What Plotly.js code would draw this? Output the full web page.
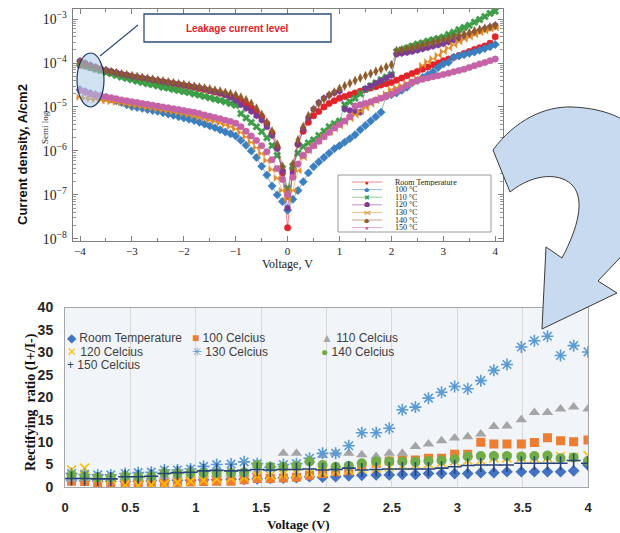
<!DOCTYPE html>
<html><head><meta charset="utf-8">
<script src="https://cdn.plot.ly/plotly-3.0.1.min.js"></script>
<style>html,body{margin:0;padding:0;background:#fff}</style>
</head><body><div id="chart" style="width:620px;height:533px"></div>
<script>
// ---------- TOP CHART DATA: current density (log10 of A/cm2) vs voltage ----------
const voltage = [-4.0,-3.9,-3.8,-3.7,-3.6,-3.5,-3.4,-3.3,-3.2,-3.1,-3.0,-2.9,-2.8,-2.7,-2.6,-2.5,-2.4,-2.3,-2.2,-2.1,
 -2.0,-1.9,-1.8,-1.7,-1.6,-1.5,-1.4,-1.3,-1.2,-1.1,-1.0,-0.9,-0.8,-0.7,-0.6,-0.5,-0.4,-0.3,-0.2,-0.1,0.0,
 0.1,0.2,0.3,0.4,0.5,0.6,0.7,0.8,0.9,1.0,1.1,1.2,1.3,1.4,1.5,1.6,1.7,1.8,1.9,2.0,
 2.1,2.2,2.3,2.4,2.5,2.6,2.7,2.8,2.9,3.0,3.1,3.2,3.3,3.4,3.5,3.6,3.7,3.8,3.9,4.0];

const logJ_RT = [-4.05,-4.07,-4.10,-4.13,-4.15,-4.18,-4.20,-4.23,-4.26,-4.28,-4.31,-4.33,-4.35,-4.37,-4.39,-4.41,-4.43,-4.45,-4.47,-4.49,
 -4.51,-4.53,-4.55,-4.58,-4.60,-4.63,-4.66,-4.69,-4.72,-4.76,-4.80,-4.86,-4.93,-5.01,-5.10,-5.22,-5.38,-5.60,-5.92,-6.50,-7.75,
 -6.40,-5.85,-5.55,-5.35,-5.20,-5.10,-5.00,-4.92,-4.86,-4.80,-4.76,-4.72,-4.68,-4.64,-4.60,-4.57,-4.54,-4.50,-4.47,-4.44,
 -4.39,-4.34,-4.29,-4.24,-4.19,-4.14,-4.09,-4.04,-4.00,-3.95,-3.91,-3.87,-3.83,-3.78,-3.74,-3.69,-3.65,-3.61,-3.55,-3.40];
const logJ_100 = [-4.61,-4.65,-4.69,-4.72,-4.75,-4.78,-4.82,-4.86,-4.90,-4.95,-4.99,-5.01,-5.03,-5.06,-5.08,-5.10,-5.13,-5.16,-5.19,-5.22,
 -5.25,-5.28,-5.31,-5.35,-5.39,-5.43,-5.47,-5.52,-5.57,-5.61,-5.66,-5.76,-5.87,-6.00,-6.15,-6.35,-6.55,-6.80,-7.00,-7.15,-7.35,
 -7.10,-6.90,-6.70,-6.50,-6.36,-6.25,-6.15,-6.05,-5.95,-5.88,-5.80,-5.72,-5.63,-5.52,-5.42,-5.32,-5.22,-5.12,-4.75,-4.72,
 -4.68,-4.62,-4.55,-4.45,-4.40,-4.33,-4.27,-4.20,-4.10,-4.02,-3.98,-3.87,-3.84,-3.81,-3.78,-3.75,-3.71,-3.67,-3.63,-3.58];
const logJ_110 = [-4.00,-4.06,-4.10,-4.14,-4.17,-4.21,-4.24,-4.28,-4.32,-4.35,-4.38,-4.41,-4.44,-4.47,-4.49,-4.52,-4.55,-4.57,-4.60,-4.62,
 -4.65,-4.67,-4.70,-4.73,-4.76,-4.79,-4.82,-4.85,-4.88,-4.92,-4.96,-5.15,-5.25,-5.35,-5.45,-5.56,-5.70,-5.88,-6.10,-6.40,-6.85,
 -6.35,-6.05,-5.90,-5.82,-5.75,-5.65,-5.55,-5.45,-5.38,-5.32,-4.95,-4.88,-4.80,-4.70,-4.60,-4.52,-4.45,-4.38,-4.32,-4.26,
 -3.74,-3.70,-3.66,-3.61,-3.57,-3.54,-3.50,-3.47,-3.44,-3.41,-3.35,-3.30,-3.24,-3.19,-3.14,-3.07,-3.01,-2.94,-2.87,-2.82];
const logJ_120 = [-3.95,-4.00,-4.05,-4.09,-4.13,-4.16,-4.19,-4.22,-4.25,-4.27,-4.30,-4.32,-4.34,-4.36,-4.38,-4.40,-4.42,-4.44,-4.46,-4.48,
 -4.50,-4.52,-4.54,-4.56,-4.59,-4.62,-4.65,-4.68,-4.72,-4.78,-4.85,-4.95,-5.03,-5.10,-5.20,-5.30,-5.45,-5.65,-5.95,-6.45,-7.30,
 -6.50,-5.85,-5.50,-5.25,-5.05,-4.90,-4.80,-4.73,-4.68,-4.64,-5.05,-5.08,-5.10,-5.12,-4.58,-4.52,-4.46,-4.40,-4.34,-4.28,
 -3.80,-3.78,-3.76,-3.74,-3.71,-3.68,-3.65,-3.62,-3.59,-3.56,-3.52,-3.48,-3.44,-3.40,-3.36,-3.31,-3.27,-3.22,-3.18,-3.14];
const logJ_130 = [-4.78,-4.80,-4.82,-4.83,-4.85,-4.86,-4.88,-4.89,-4.91,-4.93,-4.95,-4.97,-4.99,-5.01,-5.03,-5.05,-5.07,-5.09,-5.11,-5.13,
 -5.15,-5.18,-5.21,-5.24,-5.27,-5.30,-5.33,-5.37,-5.41,-5.45,-5.50,-5.58,-5.68,-5.80,-5.93,-6.06,-6.22,-6.42,-6.62,-6.90,-7.10,
 -6.90,-6.45,-6.15,-6.00,-5.88,-5.78,-5.68,-5.58,-5.50,-5.43,-5.35,-5.27,-5.18,-5.10,-5.02,-4.94,-4.86,-4.78,-4.70,-4.60,
 -4.56,-4.51,-4.46,-4.41,-4.35,-4.05,-3.97,-3.90,-3.82,-3.74,-3.66,-3.59,-3.52,-3.46,-3.41,-3.36,-3.31,-3.27,-3.23,-3.20];
const logJ_140 = [-3.98,-4.03,-4.07,-4.11,-4.14,-4.17,-4.20,-4.22,-4.25,-4.27,-4.29,-4.31,-4.33,-4.35,-4.37,-4.39,-4.41,-4.43,-4.45,-4.47,
 -4.49,-4.51,-4.53,-4.55,-4.57,-4.59,-4.62,-4.64,-4.67,-4.70,-4.73,-4.78,-4.84,-4.92,-5.03,-5.17,-5.35,-5.55,-5.85,-6.35,-7.00,
 -6.30,-5.75,-5.45,-5.20,-5.05,-4.92,-4.82,-4.73,-4.66,-4.58,-4.52,-4.46,-4.40,-4.34,-4.29,-4.24,-4.19,-4.14,-4.09,-4.04,
 -3.72,-3.70,-3.67,-3.65,-3.62,-3.59,-3.56,-3.53,-3.50,-3.47,-3.44,-3.40,-3.37,-3.34,-3.31,-3.27,-3.24,-3.21,-3.18,-3.15];
const logJ_150 = [-4.62,-4.66,-4.70,-4.73,-4.75,-4.77,-4.79,-4.81,-4.84,-4.86,-4.88,-4.90,-4.92,-4.94,-4.96,-4.98,-5.00,-5.02,-5.04,-5.06,
 -5.08,-5.10,-5.12,-5.15,-5.18,-5.21,-5.24,-5.27,-5.30,-5.33,-5.37,-5.45,-5.55,-5.66,-5.76,-5.88,-6.02,-6.20,-6.40,-6.65,-7.00,
 -6.60,-6.30,-6.10,-5.98,-5.88,-5.78,-5.68,-5.58,-5.48,-5.40,-5.32,-5.22,-4.98,-4.95,-4.92,-4.88,-4.84,-4.80,-4.76,-4.71,
 -4.65,-4.58,-4.51,-4.44,-4.40,-4.37,-4.34,-4.31,-4.29,-4.26,-4.23,-4.20,-4.17,-4.14,-4.10,-4.06,-4.02,-3.99,-3.95,-3.91];

const topNames = ['Room Temperature','100 °C','110 °C','120 °C','130 °C','140 °C','150 °C'];

// ---------- BOTTOM CHART DATA: rectifying ratio vs voltage ----------
const ratioVoltage = [0.05,0.15,0.25,0.35,0.46,0.56,0.66,0.76,0.86,0.96,1.06,1.16,1.27,1.37,1.47,1.57,1.67,1.77,1.87,1.97,
 2.07,2.17,2.27,2.38,2.48,2.58,2.68,2.78,2.88,2.98,3.08,3.18,3.28,3.38,3.49,3.59,3.69,3.79,3.89,4.0];
const ratioRT  = [1.5,1.4,1.3,1.3,1.3,1.3,1.4,1.4,1.5,1.5,1.6,1.6,1.7,1.7,1.8,1.9,2.0,2.1,2.3,2.2,
 2.3,2.5,2.6,2.7,2.7,2.8,2.8,3.0,3.0,3.0,3.0,3.2,3.2,3.4,3.4,3.4,3.4,3.4,3.6,4.9];
const ratio100 = [1.3,1.2,1.0,1.0,0.7,0.6,0.7,0.9,1.0,1.1,1.2,1.3,1.3,1.6,1.9,1.9,2.0,2.2,2.6,3.0,
 3.4,3.6,4.8,5.3,5.8,6.0,6.0,6.4,6.4,7.3,7.3,10.0,9.6,9.6,9.6,9.9,11.0,10.3,10.1,10.5];
const ratio110 = [1.8,1.9,1.9,2.0,2.1,2.2,2.3,2.4,2.5,2.6,2.7,2.8,2.9,3.0,3.5,4.0,7.5,7.5,6.0,7.0,
 7.5,7.5,7.2,6.8,7.5,7.5,9.0,9.6,10.3,10.9,11.2,11.8,13.5,13.6,15.0,16.6,16.6,17.4,17.8,17.4];
const ratio120 = [3.8,4.2,2.0,1.8,0.5,0.4,0.5,0.6,1.0,1.3,1.5,1.8,2.0,2.2,2.5,2.6,2.8,3.0,3.2,3.3,
 3.5,3.8,4.0,4.2,4.5,4.8,5.0,5.2,5.5,5.8,6.0,6.0,6.5,6.5,6.6,6.5,6.6,6.8,6.6,7.0];
const ratio130 = [3.0,2.8,2.7,2.7,3.0,3.2,3.3,3.8,3.8,4.0,4.6,5.0,5.1,5.6,5.2,4.4,5.0,5.2,6.4,7.5,
 7.5,9.2,12.1,12.1,13.1,17.2,17.8,19.8,21.1,22.4,21.9,23.7,26.0,27.3,31.2,32.6,33.6,29.3,31.5,30.1];
const ratio140 = [2.7,2.4,2.1,2.1,2.4,2.3,2.4,3.1,3.0,3.1,3.1,3.1,3.2,3.3,4.9,4.5,4.5,4.7,5.7,4.9,
 4.5,4.7,5.3,5.7,5.7,5.7,5.6,5.8,5.9,6.2,6.8,6.9,6.9,6.9,6.8,6.9,7.0,6.4,6.6,5.8];
const ratio150 = [1.9,1.9,1.8,1.8,2.3,2.3,2.4,3.0,3.2,3.3,3.6,3.7,3.6,3.7,3.9,3.8,3.9,3.9,4.0,3.8,
 3.9,4.2,3.8,3.9,4.0,4.0,4.0,4.0,4.2,4.5,4.8,4.9,4.9,4.9,5.3,5.3,5.3,5.3,5.9,5.3];

const bottomNames = ['Room Temperature','100 Celcius','110 Celcius','120 Celcius','130 Celcius','140 Celcius','150 Celcius'];

// ---------- styles ----------
const W = 620, H = 533;
const px = x => x / W, py = y => 1 - y / H;

const topSeries = [logJ_RT, logJ_100, logJ_110, logJ_120, logJ_130, logJ_140, logJ_150];
const topColors = ['#E3222A','#3A7FC1','#3C9D47','#7A3B97','#E48A25','#8E5A2C','#C663A6'];
const topLine = ['rgba(227,34,42,0.55)','rgba(58,127,193,0.55)','rgba(60,157,71,0.55)','rgba(122,59,151,0.55)','rgba(228,138,37,0.55)','rgba(142,90,44,0.55)','rgba(198,99,166,0.55)'];
const topSymbols = ['circle','diamond','x','hexagon','bowtie','diamond-tall','circle'];
const topGlyphs = ['●','◆','✖','⬢','⋈','◆','●'];

const botSeries = [ratioRT, ratio100, ratio110, ratio120, ratio130, ratio140, ratio150];
const botColors = ['#4472C4','#ED7D31','#A5A5A5','#FFC000','#5B9BD5','#70AD47','#264478'];
const botSymbols = ['diamond','square','triangle-up','x-thin-open','asterisk-open','circle','cross-thin-open'];
const botSizes = [9,9,10,9,10,10,10];
const botGlyphs = ['◆','■','▲','✕','✳','●','+'];

const data = [];
topSeries.forEach((s, i) => {
  data.push({
    type: 'scatter', mode: 'lines+markers', name: topNames[i],
    x: voltage, y: s.map(v => Math.pow(10, v)),
    xaxis: 'x', yaxis: 'y',
    line: {color: topLine[i], width: 1},
    marker: {symbol: topSymbols[i], size: 6.5, color: topColors[i], line: {width: 0.4, color: topColors[i]}},
    showlegend: false
  });
});
botSeries.forEach((s, i) => {
  const open = botSymbols[i].indexOf('open') >= 0;
  data.push({
    type: 'scatter', mode: 'markers', name: bottomNames[i],
    x: ratioVoltage, y: s, xaxis: 'x2', yaxis: 'y2',
    marker: {symbol: botSymbols[i], size: botSizes[i], color: botColors[i],
             line: {width: open ? 1.6 : 0, color: botColors[i]}},
    showlegend: false
  });
});

// ---------- shapes ----------
const shapes = [];
shapes.push({type:'rect', xref:'x2 domain', yref:'y2 domain', x0:0, x1:1, y0:0, y1:1,
  fillcolor:'#F1F4F9', line:{width:0}, layer:'below'});
shapes.push({type:'rect', xref:'paper', yref:'paper', x0:px(144), x1:px(331), y0:py(42), y1:py(14),
  fillcolor:'#ffffff', line:{color:'#2F4B7C', width:1.3}, layer:'above'});
shapes.push({type:'line', xref:'paper', yref:'paper', x0:px(138), y0:py(25), x1:px(100), y1:py(56),
  line:{color:'#2F4B7C', width:1.2}, layer:'above'});
shapes.push({type:'circle', xref:'paper', yref:'paper', x0:px(77), x1:px(104), y0:py(107), y1:py(53),
  fillcolor:'rgba(170,200,232,0.55)', line:{color:'#1F3864', width:1.2}, layer:'above'});
shapes.push({type:'rect', xref:'paper', yref:'paper', x0:px(338), x1:px(491), y0:py(232), y1:py(175),
  fillcolor:'#ffffff', line:{color:'#808080', width:0.8}, layer:'above'});
const topRowY = i => 182 + 7.6 * i;
topNames.forEach((n, i) => {
  shapes.push({type:'line', xref:'paper', yref:'paper', x0:px(352), x1:px(382), y0:py(topRowY(i)), y1:py(topRowY(i)),
    line:{color: topLine[i], width:1}, layer:'above'});
});
const P = (x, y) => px(x).toFixed(5) + ',' + py(y).toFixed(5);
const arrowPath = 'M ' + P(493,150) +
  ' C ' + P(515,120) + ' ' + P(545,106) + ' ' + P(572,107) +
  ' C ' + P(600,108) + ' ' + P(620,116) + ' ' + P(632,126) +
  ' L ' + P(632,245) + ' L ' + P(598,281) + ' L ' + P(617,293) +
  ' L ' + P(542,329) + ' L ' + P(546,247) + ' L ' + P(562,258) +
  ' C ' + P(578,228) + ' ' + P(585,200) + ' ' + P(573,186) +
  ' C ' + P(562,173) + ' ' + P(535,172) + ' ' + P(510,192) + ' Z';
shapes.push({type:'path', xref:'paper', yref:'paper', path: arrowPath,
  fillcolor:'#C8DAF0', line:{color:'#3A3A3A', width:1}, layer:'above'});

// ---------- annotations ----------
const ann = [];
const A = (o) => Object.assign({xref:'paper', yref:'paper', showarrow:false, xanchor:'center', yanchor:'middle'}, o);
ann.push(A({x:px(22), y:py(155), text:'Current density, A/cm2', textangle:-90,
  font:{family:'Liberation Sans', size:13, weight:'bold', color:'#111'}}));
ann.push(A({x:px(45), y:py(128), text:'Semi log', textangle:-90,
  font:{family:'Liberation Serif', size:9, color:'#333'}}));
ann.push(A({x:px(287), y:py(264), text:'Voltage, V',
  font:{family:'Liberation Serif', size:12, color:'#222'}}));
ann.push(A({x:px(237), y:py(28), text:'Leakage current level',
  font:{family:'Liberation Sans', size:10, weight:'bold', color:'#E8202A'}}));
ann.push(A({x:px(31), y:py(402), text:'Rectifying  ratio (I+/I-)', textangle:-90,
  font:{family:'Liberation Serif', size:14, weight:'bold', color:'#111'}}));
ann.push(A({x:px(298), y:py(524), text:'Voltage (V)',
  font:{family:'Liberation Serif', size:13, weight:'bold', color:'#111'}}));
// top legend entries (compact rows, drawn as text)
topNames.forEach((n, i) => {
  ann.push(A({x:px(367), y:py(topRowY(i)), text:topGlyphs[i], height:5, width:8, borderpad:0,
    font:{size:6.5, color:topColors[i]}}));
  ann.push(A({x:px(394), y:py(topRowY(i)), xanchor:'left', text:n, height:7, borderpad:0,
    font:{family:'Liberation Serif', size:8, color:'#222'}}));
});
// bottom legend entries (3 columns)
const colX = [66, 191, 320], rowY = [337, 351, 364];
bottomNames.forEach((n, i) => {
  const c = i % 3, r = Math.floor(i / 3);
  ann.push(A({x:px(colX[c]), y:py(rowY[r]), xanchor:'left', height:13, borderpad:0,
    text:'<span style="color:' + botColors[i] + '">' + botGlyphs[i] + '</span> ' + n,
    font:{family:'Liberation Sans', size:12, color:'#404040'}}));
});

const serifTick = {family:'Liberation Serif', size:11, color:'#222'};
const boldTick = {family:'Liberation Sans', size:13, weight:'bold', color:'#262626'};

const layout = {
  width: W, height: H,
  margin: {l:0, r:0, t:0, b:0},
  paper_bgcolor: '#ffffff', plot_bgcolor: 'rgba(0,0,0,0)',
  showlegend: false,
  xaxis: {domain:[px(73), px(503)], range:[-4.135, 4.15], anchor:'y',
    showline:true, mirror:'ticks', linecolor:'#808080', linewidth:1,
    ticks:'inside', ticklen:5, tickcolor:'#808080', tick0:0, dtick:1,
    minor:{ticks:'inside', ticklen:3, dtick:0.5, tickcolor:'#808080'},
    showgrid:false, zeroline:false, tickfont: serifTick},
  yaxis: {domain:[py(241), py(9)], type:'log', range:[-8.05, -2.77], anchor:'x',
    showline:true, mirror:'ticks', linecolor:'#808080', linewidth:1,
    ticks:'inside', ticklen:5, tickcolor:'#808080', dtick:1,
    exponentformat:'power', showexponent:'all',
    minor:{ticks:'inside', ticklen:3, dtick:'D1', tickcolor:'#999999'},
    showgrid:false, zeroline:false, tickfont: serifTick, ticklabelstandoff:3},
  xaxis2: {domain:[px(65), px(588)], range:[0, 4], anchor:'y2', dtick:0.5,
    showgrid:true, gridcolor:'#D9D9D9', gridwidth:1,
    showline:true, mirror:true, linecolor:'#A6A6A6', zeroline:false,
    ticks:'', tickfont: boldTick, ticklabelstandoff:8},
  yaxis2: {domain:[py(487), py(307.5)], range:[0, 40], anchor:'x2', dtick:5,
    showgrid:false, showline:true, mirror:true, linecolor:'#A6A6A6', zeroline:false,
    ticks:'', tickfont: Object.assign({}, boldTick, {size:14}), ticklabelstandoff:8},
  shapes: shapes,
  annotations: ann
};

Plotly.newPlot('chart', data, layout, {displayModeBar:false, staticPlot:true});
</script></body></html>
